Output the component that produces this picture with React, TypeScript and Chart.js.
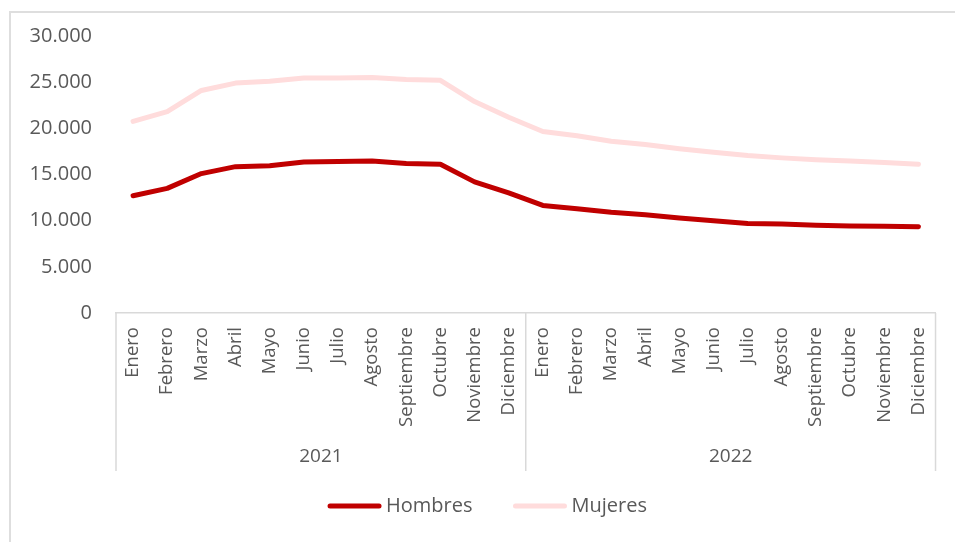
import React, { useEffect, useRef } from "react";
import { Chart, registerables } from "chart.js";

Chart.register(...registerables);

const months = [
  "Enero", "Febrero", "Marzo", "Abril", "Mayo", "Junio",
  "Julio", "Agosto", "Septiembre", "Octubre", "Noviembre", "Diciembre",
];
const years = ["2021", "2022"];
const categories = [...months, ...months];

const hombres = [
  12700, 13500, 15100, 15850, 15950, 16350, 16400, 16450, 16200, 16100, 14200, 13000,
  11650, 11300, 10900, 10650, 10300, 10000, 9700, 9650, 9500, 9420, 9400, 9350,
];
const mujeres = [
  20750, 21800, 24100, 24900, 25100, 25450, 25450, 25500, 25300, 25200, 22900, 21200,
  19650, 19200, 18600, 18250, 17800, 17400, 17050, 16800, 16600, 16450, 16300, 16100,
];

const yTicks = [0, 5000, 10000, 15000, 20000, 25000, 30000];

const FONT = "'Open Sans', 'Noto Sans', sans-serif";
const TEXT = "#595959";
const LINE = "#d9d9d9";
const RED = "#c00000";
const PINK = "#ffdcdc";

function fmt(v: number): string {
  return String(v).replace(/\B(?=(\d{3})+(?!\d))/g, ".");
}

const groupPlugin = {
  id: "groupPlugin",
  afterDraw(chart: any) {
    const { ctx, chartArea } = chart;
    const x = chart.scales.x;
    const top = chartArea.bottom;
    const bottom = top + 158;
    ctx.save();
    ctx.strokeStyle = LINE;
    ctx.lineWidth = 1.5;
    const n = months.length;
    for (let g = 0; g <= years.length; g++) {
      const px = x.getPixelForValue(g * n - 0.5);
      ctx.beginPath();
      ctx.moveTo(px, top);
      ctx.lineTo(px, bottom);
      ctx.stroke();
    }
    ctx.fillStyle = TEXT;
    ctx.font = `19px ${FONT}`;
    ctx.textAlign = "center";
    ctx.textBaseline = "middle";
    years.forEach((yr, g) => {
      const a = x.getPixelForValue(g * n - 0.5);
      const b = x.getPixelForValue((g + 1) * n - 0.5);
      ctx.fillText(yr, (a + b) / 2, top + 144);
    });

    // legend
    const items = chart.data.datasets.map((d: any) => ({ text: d.label, color: d.borderColor }));
    ctx.font = `20px ${FONT}`;
    const sample = 53;
    const gap = 5;
    const itemGap = 41;
    let total = 0;
    items.forEach((it: any, i: number) => {
      total += sample + gap + ctx.measureText(it.text).width + (i < items.length - 1 ? itemGap : 0);
    });
    let lx = chart.width / 2 + 10 - total / 2;
    const ly = 506;
    ctx.textAlign = "left";
    ctx.lineCap = "round";
    items.forEach((it: any) => {
      ctx.strokeStyle = it.color;
      ctx.lineWidth = 5;
      ctx.beginPath();
      ctx.moveTo(lx + 2, ly);
      ctx.lineTo(lx + sample - 2, ly);
      ctx.stroke();
      lx += sample + gap;
      ctx.fillStyle = TEXT;
      ctx.fillText(it.text, lx, ly);
      lx += ctx.measureText(it.text).width + itemGap;
    });
    ctx.restore();
  },
};

export default function App() {
  const ref = useRef<HTMLCanvasElement | null>(null);

  useEffect(() => {
    if (!ref.current) return;
    const chart = new Chart(ref.current, {
      type: "line",
      data: {
        labels: categories,
        datasets: [
          {
            label: "Hombres",
            data: hombres,
            borderColor: RED,
            backgroundColor: RED,
            borderWidth: 5,
            pointRadius: 0,
            tension: 0,
            borderCapStyle: "round",
            borderJoinStyle: "round",
          },
          {
            label: "Mujeres",
            data: mujeres,
            borderColor: PINK,
            backgroundColor: PINK,
            borderWidth: 5,
            pointRadius: 0,
            tension: 0,
            borderCapStyle: "round",
            borderJoinStyle: "round",
          },
        ],
      },
      options: {
        responsive: false,
        animation: false,
        layout: { padding: { top: 34, right: 17, bottom: 0, left: 0 } },
        plugins: {
          legend: { display: false },
          tooltip: { enabled: false },
          title: { display: false },
        },
        scales: {
          x: {
            type: "category",
            offset: true,
            grid: { display: false, drawTicks: false },
            border: { display: true, color: LINE, width: 1.5 },
            ticks: {
              autoSkip: false,
              maxRotation: 90,
              minRotation: 90,
              padding: 14,
              color: TEXT,
              font: { family: FONT, size: 18.5 },
            },
            afterFit: (scale: any) => {
              scale.height = 229;
            },
          },
          y: {
            min: 0,
            max: 30000,
            afterBuildTicks: (scale: any) => {
              scale.ticks = yTicks.map((v) => ({ value: v }));
            },
            grid: { display: false, drawTicks: false },
            border: { display: false },
            ticks: {
              padding: 24,
              color: TEXT,
              font: { family: FONT, size: 20 },
              callback: (v: any) => fmt(Number(v)),
            },
            afterFit: (scale: any) => {
              scale.width = 116;
            },
          },
        },
      },
      plugins: [groupPlugin],
    });
    return () => chart.destroy();
  }, []);

  return (
    <div
      style={{
        position: "fixed",
        left: 0,
        top: 0,
        width: 955,
        height: 542,
        overflow: "hidden",
        background: "#fff",
      }}
    >
      <div
        style={{
          position: "absolute",
          left: 9,
          top: 11,
          width: 1000,
          height: 1000,
          borderTop: "2px solid #dedede",
          borderLeft: "2px solid #dedede",
        }}
      />
      <canvas
        ref={ref}
        width={955}
        height={542}
        style={{ position: "absolute", left: 0, top: 0, width: 955, height: 542 }}
      />
    </div>
  );
}
